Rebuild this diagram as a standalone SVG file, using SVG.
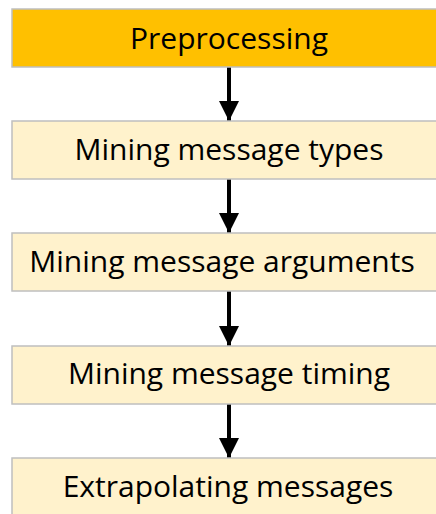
<svg xmlns="http://www.w3.org/2000/svg" width="436" height="514" viewBox="0 0 436 514">
<style>
.box{fill:#fff2cc;stroke:#bfbfbf;stroke-width:1.5}
.first{fill:#ffc000}
.lbl{font-family:"Open Sans",Lato,sans-serif;font-size:30px;fill:#000;text-anchor:middle;font-variant-ligatures:none}
.arr{stroke:#000;stroke-width:4;fill:none}
</style>
<defs>
<marker id="ah" markerUnits="userSpaceOnUse" markerWidth="20" markerHeight="20" refX="20" refY="10" orient="auto">
<path d="M0,0 L20,10 L0,20 Z" fill="#000"/>
</marker>
</defs>
<g id="connectors">
<line class="arr" x1="229" y1="67" x2="229" y2="121" marker-end="url(#ah)"/>
<line class="arr" x1="229" y1="179" x2="229" y2="233" marker-end="url(#ah)"/>
<line class="arr" x1="229" y1="291" x2="229" y2="346" marker-end="url(#ah)"/>
<line class="arr" x1="229" y1="404" x2="229" y2="458" marker-end="url(#ah)"/>
</g>
<g id="n1"><rect class="box first" x="12" y="9" width="430" height="58"/><text class="lbl" x="229" y="49">Preprocessing</text></g>
<g id="n2"><rect class="box" x="12" y="121" width="430" height="58"/><text class="lbl" x="229" y="159.5">Mining message types</text></g>
<g id="n3"><rect class="box" x="12" y="233" width="430" height="58"/><text class="lbl" x="222" y="272">Mining message arguments</text></g>
<g id="n4"><rect class="box" x="12" y="346" width="430" height="58"/><text class="lbl" x="229" y="384">Mining message timing</text></g>
<g id="n5"><rect class="box" x="12" y="458" width="430" height="58"/><text class="lbl" x="228" y="497">Extrapolating messages</text></g>
</svg>
